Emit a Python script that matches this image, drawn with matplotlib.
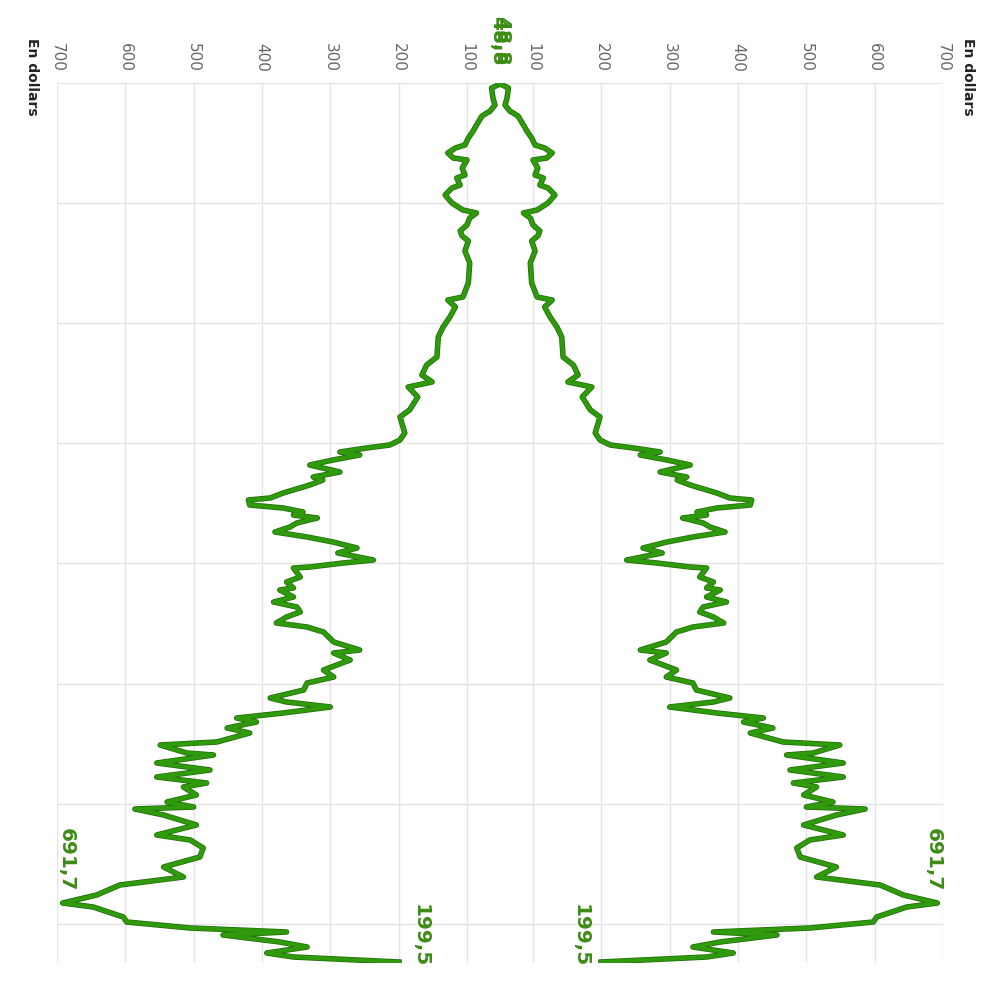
import matplotlib
matplotlib.use("Agg")
import matplotlib.pyplot as plt
import matplotlib.patheffects as pe

# ---- data (time runs downward in grid-interval units, values in dollars) ----
grid_pix = 120.1
y_pix = [82, 88, 98, 105, 111, 116, 125, 131, 138, 145, 148, 153, 158, 160, 168,
         175, 178, 185, 188, 195, 203, 210, 213, 218, 225, 231, 236, 241, 251, 263,
         283, 297, 300, 307, 317, 327, 337, 357, 365, 375, 382, 387, 397, 410, 417,
         433, 440, 445, 448, 452, 455, 460, 465, 472, 477, 480, 485, 493, 498, 500,
         505, 508, 512, 515, 518, 523, 527, 532, 537, 542, 548, 553, 560, 563, 567,
         568, 577, 582, 588, 590, 597, 602, 607, 612, 617, 623, 627, 632, 642, 650,
         653, 660, 670, 677, 683, 690, 698, 702, 707, 713, 718, 722, 728, 733, 742,
         745, 753, 755, 763, 770, 777, 783, 787, 795, 802, 807, 809, 815, 825, 835,
         840, 848, 857, 867, 877, 885, 895, 903, 907, 917, 922, 928, 932, 935, 942,
         947, 953, 957, 962]
values = [48.8, 64, 62, 59, 66, 78, 86, 91, 98, 103, 117, 128, 120, 100, 107,
          103, 115, 110, 122, 132, 122, 106, 86, 96, 100, 110, 107, 98, 103, 96,
          98, 106, 128, 117, 125, 135, 142, 144, 159, 166, 151, 186, 172, 184, 198,
          191, 198, 213, 247, 286, 257, 296, 330, 286, 325, 311, 330, 369, 388, 420,
          418, 369, 340, 354, 319, 349, 359, 381, 334, 296, 261, 289, 237, 281, 330,
          354, 344, 364, 354, 374, 354, 383, 349, 344, 364, 379, 334, 310, 295, 257,
          295, 271, 310, 295, 334, 339, 388, 364, 300, 369, 437, 408, 451, 418, 466,
          549, 510, 471, 554, 476, 554, 481, 515, 496, 539, 500, 586, 544, 496, 554,
          505, 486, 491, 544, 515, 608, 642, 691.7, 647, 603, 598, 505, 364, 457, 374,
          334, 393, 354, 199.5]
time = [max(0.0, (p - 83) / grid_pix) for p in y_pix]

value_ticks = [100, 200, 300, 400, 500, 600, 700]
tick_labels = ["100", "200", "300", "400", "500", "600", "700"]
time_grid = [0, 1, 2, 3, 4, 5, 6, 7]
unit_label = "En dollars"
first_label, peak_label, last_label = "48,8", "691,7", "199,5"

GREEN = "#2e9a0c"
EDGE = "#226e08"
LABEL_GREEN = "#3c8c14"

fig = plt.figure(figsize=(10, 10), dpi=100)
fig.patch.set_facecolor("white")

t_end = (963 - 83) / grid_pix
i_peak = values.index(max(values))

def setup(ax, inverted):
    ax.set_facecolor("none")
    ax.plot(values, time, color=GREEN, lw=2.9, solid_joinstyle="round",
            path_effects=[pe.Stroke(linewidth=4.0, foreground=EDGE), pe.Normal()],
            zorder=3)
    ax.set_ylim(t_end, 0)
    if inverted:
        ax.set_xlim(700, 0)
    else:
        ax.set_xlim(0, 700)
    ax.set_xticks(value_ticks)
    ax.set_xticklabels(tick_labels, rotation=-90, color="#666666", fontsize=11)
    ax.xaxis.tick_top()
    ax.tick_params(axis="x", length=0, pad=8)
    ax.set_yticks(time_grid)
    ax.tick_params(axis="y", length=0, labelleft=False, labelright=False)
    ax.grid(True, color="#e4e4e4", lw=1.0, zorder=0)
    ax.set_axisbelow(True)
    for s in ax.spines.values():
        s.set_visible(False)
    sgn = 1 if not inverted else -1
    kw = dict(rotation=-90, color=LABEL_GREEN, fontsize=14.5, fontweight="bold",
              textcoords="offset pixels", ha="center", va="bottom", zorder=5)
    ax.annotate(first_label, (values[0], time[0]), xytext=(0, 17), **kw)
    ax.annotate(peak_label, (values[i_peak], time[i_peak]), xytext=(-4 * sgn, 12), **kw)
    ax.annotate(last_label, (values[-1], time[-1]), xytext=(-21 * sgn, -5), **kw)

ax_left = fig.add_axes([0.057, 0.037, 0.4783, 0.88])
ax_right = fig.add_axes([0.4647, 0.037, 0.4783, 0.88])
setup(ax_left, True)
setup(ax_right, False)

fig.text(0.968, 0.962, unit_label, rotation=-90, ha="center", va="top",
         fontsize=10, fontweight="bold", color="#222222")
fig.text(0.032, 0.962, unit_label, rotation=-90, ha="center", va="top",
         fontsize=10, fontweight="bold", color="#222222")

fig.savefig("out.png", dpi=100, facecolor="white")
